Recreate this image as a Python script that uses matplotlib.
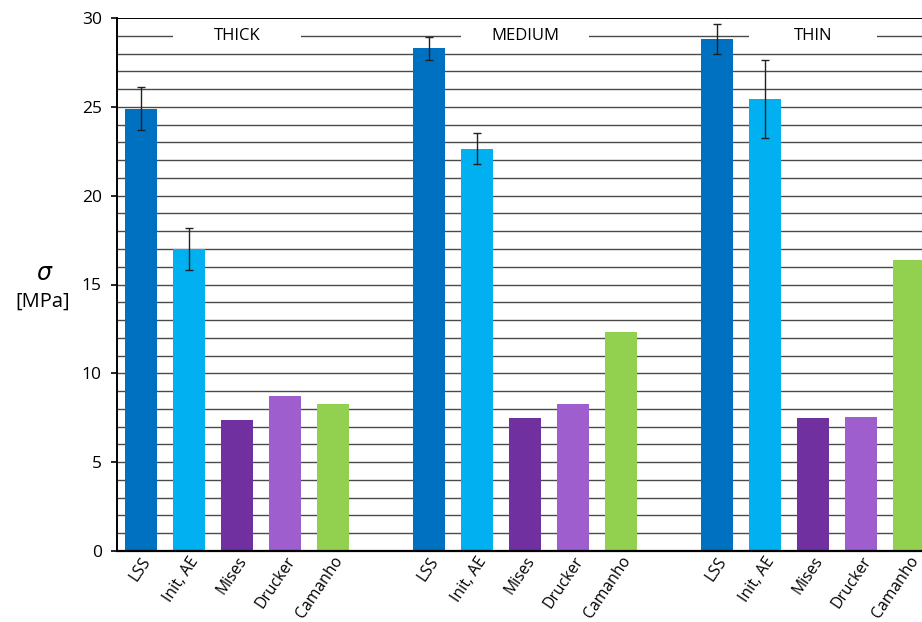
import matplotlib
matplotlib.use("Agg")
import matplotlib.pyplot as plt
import matplotlib.transforms as mtransforms

plt.rcParams['font.family'] = ['Open Sans', 'DejaVu Sans']

groups = ["THICK", "MEDIUM", "THIN"]
methods = ["LSS", "Init, AE", "Mises", "Drucker", "Camanho"]
colors = ["#0070C0", "#00B0F0", "#7030A0", "#9E5ECE", "#92D050"]

thick = [24.9, 17.0, 7.4, 8.7, 8.25]
medium = [28.3, 22.65, 7.5, 8.25, 12.3]
thin = [28.8, 25.45, 7.5, 7.55, 16.4]
values = [thick, medium, thin]

thick_err = [1.2, 1.2, None, None, None]
medium_err = [0.65, 0.85, None, None, None]
thin_err = [0.85, 2.2, None, None, None]
errors = [thick_err, medium_err, thin_err]

W, H = 922, 622
fig = plt.figure(figsize=(W / 100, H / 100), dpi=100)
ax = fig.add_axes([117 / W, 71 / H, (W - 117) / W, (551 - 18) / H])

slot = 6
positions, labels = [], []
for g, (vals, errs) in enumerate(zip(values, errors)):
    for i, (v, e) in enumerate(zip(vals, errs)):
        x = g * slot + i
        ax.bar(x, v, width=0.667, color=colors[i], zorder=3)
        if e is not None:
            ax.errorbar(x, v, yerr=e, fmt='none', ecolor='#222222',
                        elinewidth=1.0, capsize=2.6, capthick=1.0, zorder=4)
        positions.append(x)
        labels.append(methods[i])

ax.set_xlim(-0.5, -0.5 + (W - 117) / 48)
ax.set_ylim(0, 30)

# horizontal grid every 1 MPa
for y in range(1, 30):
    ax.axhline(y, color='#4a4a4a', lw=1.0, zorder=1)
ax.axhline(30, color='black', lw=1.4, zorder=1)

ax.set_yticks(range(0, 31, 5))
ax.tick_params(axis='y', direction='out', length=4.5, width=1.2,
               labelsize=12.5, pad=6.5)
ax.set_xticks(positions)
ax.set_xticklabels(labels, rotation=56, ha='right', va='top',
                   rotation_mode='anchor', fontsize=11.3)
shift = mtransforms.ScaledTranslation(5 / 100, 0, fig.dpi_scale_trans)
for lbl in ax.get_xticklabels():
    lbl.set_transform(lbl.get_transform() + shift)
ax.tick_params(axis='x', length=0, pad=2)

for s in ['top', 'right']:
    ax.spines[s].set_visible(False)
ax.spines['left'].set_linewidth(1.4)
ax.spines['bottom'].set_linewidth(1.6)
ax.spines['left'].set_zorder(5)
ax.spines['bottom'].set_zorder(5)

# group headings with white gap in the gridline
for g, name in enumerate(groups):
    xc = g * slot + 2
    ax.text(xc, 29, name, ha='center', va='center', fontsize=12,
            zorder=6)
    ax.fill_between([xc - 1.33, xc + 1.33], 28.75, 29.25, color='white',
                    zorder=2, lw=0)

fig.text(45 / W, 1 - 274 / H, r'$\sigma$', ha='center', va='center',
         fontsize=17)
fig.text(43 / W, 1 - 302 / H, '[MPa]', ha='center', va='center',
         fontsize=14.5)

fig.savefig('out.png', dpi=100)
